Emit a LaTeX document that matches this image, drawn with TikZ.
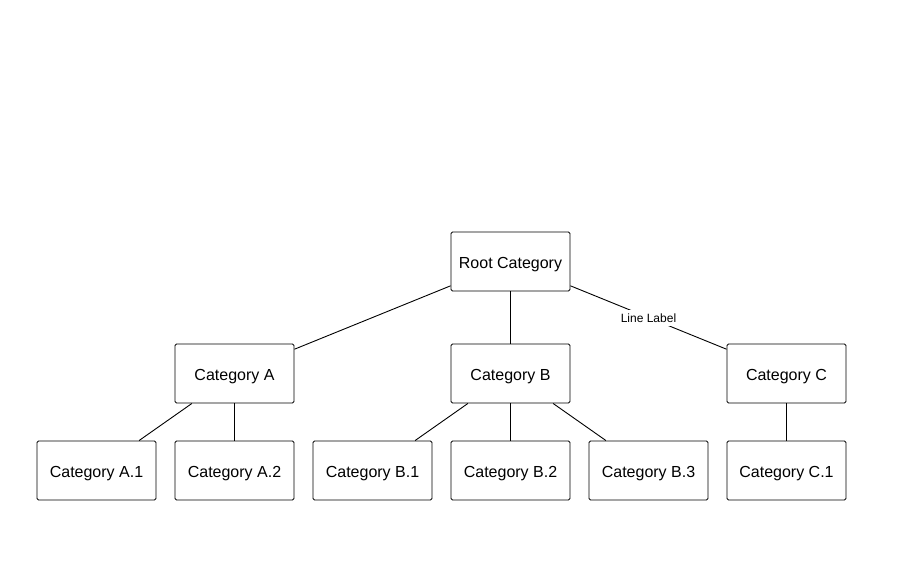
\documentclass[tikz,border=0pt]{standalone}
\usepackage{fontspec}
\setmainfont{Liberation Sans}
\begin{document}
\begin{tikzpicture}[x=1pt,y=-1pt,
  catbox/.style={draw=black,line width=0.9pt,rounded corners=1.5pt,minimum width=119pt,minimum height=59pt,inner sep=0pt,text height=14pt,text depth=0pt,font=\fontsize{16pt}{19pt}\selectfont,fill=white},
  link/.style={draw=black,line width=0.9pt},
  linklabel/.style={fill=white,inner sep=3pt,text height=10pt,text depth=0pt,font=\fontsize{12pt}{14pt}\selectfont}]
\useasboundingbox (0,0) rectangle (918,574);
\node[catbox] (root) at (510.5,261.5) {Root Category};
\node[catbox] (a) at (234.5,373.5) {Category A};
\node[catbox] (b) at (510.5,373.5) {Category B};
\node[catbox] (c) at (786.5,373.5) {Category C};
\node[catbox] (a1) at (96.5,470.5) {Category A.1};
\node[catbox] (a2) at (234.5,470.5) {Category A.2};
\node[catbox] (b1) at (372.5,470.5) {Category B.1};
\node[catbox] (b2) at (510.5,470.5) {Category B.2};
\node[catbox] (b3) at (648.5,470.5) {Category B.3};
\node[catbox] (c1) at (786.5,470.5) {Category C.1};
\draw[link] (root) -- (a);
\draw[link] (root.south) -- (b.north);
\draw[link] (root) -- node[linklabel] (ll) {Line Label} (c);
\draw[link] (a) -- (a1);
\draw[link] (a.south) -- (a2.north);
\draw[link] (b) -- (b1);
\draw[link] (b.south) -- (b2.north);
\draw[link] (b) -- (b3);
\draw[link] (c.south) -- (c1.north);
\end{tikzpicture}
\end{document}
